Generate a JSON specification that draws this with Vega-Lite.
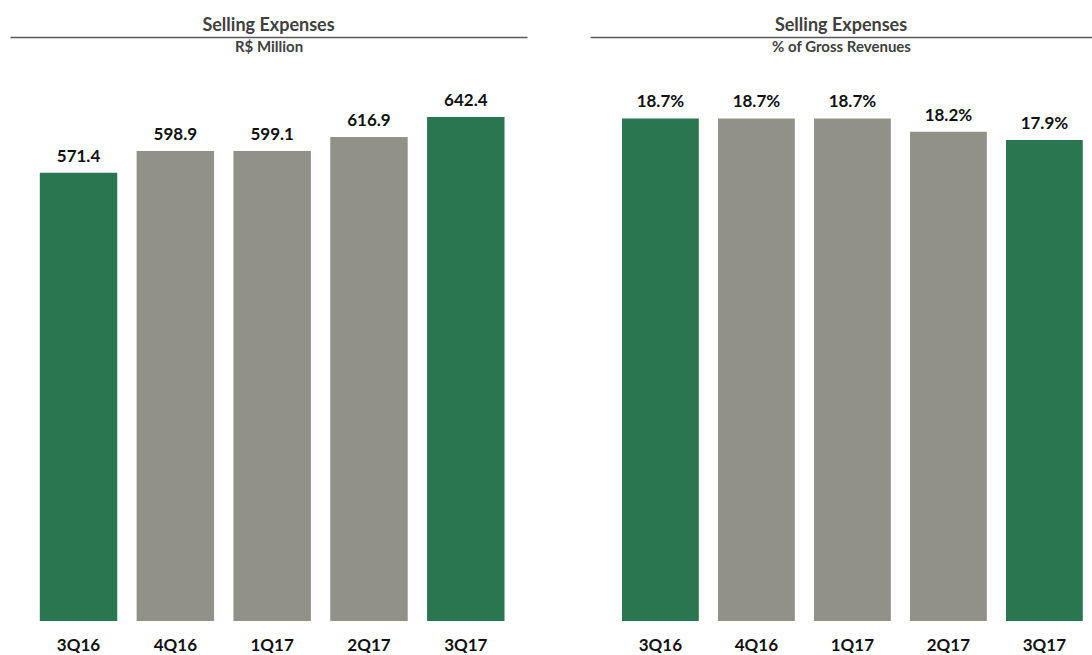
{
  "$schema": "https://vega.github.io/schema/vega-lite/v6.json",
  "background": "white",
  "padding": {"left": 10, "top": 16, "right": 0, "bottom": 0},
  "config": {
    "view": {"stroke": null},
    "font": "Lato",
    "concat": {"spacing": 63}
  },
  "hconcat": [
    {
      "width": 517,
      "height": 584,
      "title": {"text": "Selling Expenses", "font": "Lato", "fontSize": 18, "fontWeight": "bold", "color": "#404040", "baseline": "alphabetic", "offset": -11.5},
      "data": {"values": [
        {"quarter": "3Q16", "value": 571.4},
        {"quarter": "4Q16", "value": 598.9},
        {"quarter": "1Q17", "value": 599.1},
        {"quarter": "2Q17", "value": 616.9},
        {"quarter": "3Q17", "value": 642.4}
      ]},
      "layer": [
        {
          "mark": {"type": "bar"},
          "encoding": {
            "x": {"field": "quarter", "type": "nominal", "sort": null,
                  "scale": {"paddingInner": 0.2, "paddingOuter": 0.27, "align": 0.57},
                  "axis": {"orient": "bottom", "title": null, "domain": false, "ticks": false, "labelAngle": 0, "labelFont": "Lato", "labelFontSize": 17, "labelFontWeight": "bold", "labelColor": "#111111", "labelPadding": 16}},
            "y": {"field": "value", "type": "quantitative", "scale": {"domain": [0, 744.3]}, "axis": null},
            "color": {"field": "quarter", "type": "nominal", "legend": null,
                      "scale": {"domain": ["3Q16", "4Q16", "1Q17", "2Q17", "3Q17"], "range": ["#2A7650", "#919187", "#919187", "#919187", "#2A7650"]}}
          }
        },
        {
          "mark": {"type": "text", "baseline": "alphabetic", "dy": -11, "font": "Lato", "fontSize": 17, "fontWeight": "bold", "color": "#111111"},
          "encoding": {
            "x": {"field": "quarter", "type": "nominal", "sort": null,
                  "scale": {"paddingInner": 0.2, "paddingOuter": 0.27, "align": 0.57},
                  "axis": {"orient": "top", "title": "R$ Million", "domain": true, "domainColor": "#5a5a5a", "domainWidth": 1.5, "ticks": false, "labels": false, "titleFont": "Lato", "titleFontSize": 15, "titleFontWeight": "bold", "titleColor": "#404040", "titleBaseline": "alphabetic", "titleY": 14.5}},
            "y": {"field": "value", "type": "quantitative", "scale": {"domain": [0, 744.3]}, "axis": null},
            "text": {"field": "value", "type": "quantitative", "format": ".1f"}
          }
        }
      ],
      "resolve": {"axis": {"x": "independent"}}
    },
    {
      "width": 502,
      "height": 584,
      "title": {"text": "Selling Expenses", "font": "Lato", "fontSize": 18, "fontWeight": "bold", "color": "#404040", "baseline": "alphabetic", "offset": -11.5},
      "data": {"values": [
        {"quarter": "3Q16", "value": 0.187},
        {"quarter": "4Q16", "value": 0.187},
        {"quarter": "1Q17", "value": 0.187},
        {"quarter": "2Q17", "value": 0.182},
        {"quarter": "3Q17", "value": 0.179}
      ]},
      "layer": [
        {
          "mark": {"type": "bar"},
          "encoding": {
            "x": {"field": "quarter", "type": "nominal", "sort": null,
                  "scale": {"paddingInner": 0.2, "paddingOuter": 0.2146, "align": 0.777},
                  "axis": {"orient": "bottom", "title": null, "domain": false, "ticks": false, "labelAngle": 0, "labelFont": "Lato", "labelFontSize": 17, "labelFontWeight": "bold", "labelColor": "#111111", "labelPadding": 16}},
            "y": {"field": "value", "type": "quantitative", "scale": {"domain": [0, 0.2173]}, "axis": null},
            "color": {"field": "quarter", "type": "nominal", "legend": null,
                      "scale": {"domain": ["3Q16", "4Q16", "1Q17", "2Q17", "3Q17"], "range": ["#2A7650", "#919187", "#919187", "#919187", "#2A7650"]}}
          }
        },
        {
          "mark": {"type": "text", "baseline": "alphabetic", "dy": -11, "font": "Lato", "fontSize": 17, "fontWeight": "bold", "color": "#111111"},
          "encoding": {
            "x": {"field": "quarter", "type": "nominal", "sort": null,
                  "scale": {"paddingInner": 0.2, "paddingOuter": 0.2146, "align": 0.777},
                  "axis": {"orient": "top", "title": "% of Gross Revenues", "domain": true, "domainColor": "#5a5a5a", "domainWidth": 1.5, "ticks": false, "labels": false, "titleFont": "Lato", "titleFontSize": 15, "titleFontWeight": "bold", "titleColor": "#404040", "titleBaseline": "alphabetic", "titleY": 14.5}},
            "y": {"field": "value", "type": "quantitative", "scale": {"domain": [0, 0.2173]}, "axis": null},
            "text": {"field": "value", "type": "quantitative", "format": ".1%"}
          }
        }
      ],
      "resolve": {"axis": {"x": "independent"}}
    }
  ]
}
